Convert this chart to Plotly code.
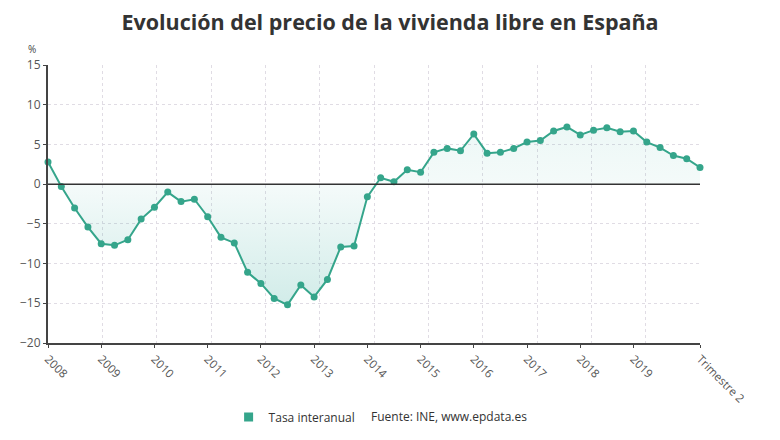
import plotly.graph_objects as go

quarters = [f"{y}T{q}" for y in range(2008, 2021) for q in range(1, 5)][:50]
values = [2.8, -0.3, -3.0, -5.4, -7.5, -7.7, -7.0, -4.4, -2.9, -1.0,
          -2.2, -1.9, -4.1, -6.7, -7.4, -11.1, -12.5, -14.4, -15.2, -12.7,
          -14.2, -12.0, -7.9, -7.8, -1.6, 0.8, 0.3, 1.8, 1.5, 4.0,
          4.5, 4.2, 6.3, 3.9, 4.0, 4.5, 5.3, 5.5, 6.7, 7.2,
          6.2, 6.8, 7.1, 6.6, 6.7, 5.3, 4.6, 3.6, 3.2, 2.1]
tick_labels = [str(y) for y in range(2008, 2020)] + ["Trimestre 2"]
tick_pos = [i for i, q in enumerate(quarters) if q.endswith("T1") and int(q[:4]) <= 2019] + [len(quarters) - 1]
x = list(range(len(quarters)))

teal = "#35a58b"
fig = go.Figure()
fig.add_trace(go.Scatter(
    x=x, y=values, mode="lines+markers",
    line=dict(color=teal, width=2),
    marker=dict(color=teal, size=7),
    fill="tozeroy",
    fillgradient=dict(type="vertical", start=-16, stop=8,
                      colorscale=[[0, "rgba(40,165,150,0.22)"],
                                  [0.66, "rgba(40,165,150,0.05)"],
                                  [1, "rgba(40,165,150,0.09)"]]),
    showlegend=False, cliponaxis=False, hoverinfo="skip"))
fig.add_trace(go.Scatter(
    x=[None], y=[None], mode="markers", name="Tasa interanual",
    marker=dict(color=teal, size=9, symbol="square")))

fig.add_shape(type="line", xref="paper", yref="y", x0=0, x1=1, y0=0, y1=0,
              line=dict(color="#333", width=1.5))

fig.update_layout(
    width=780, height=440,
    margin=dict(l=48, r=80, t=65, b=97, autoexpand=False),
    paper_bgcolor="white", plot_bgcolor="white",
    font=dict(family="Open Sans", size=11, color="#555"),
    title=dict(text="<b>Evolución del precio de la vivienda libre en España</b>",
               x=0.5, xref="container", y=0.95, yref="container", yanchor="middle",
               font=dict(size=21.5, color="#333", family="Open Sans")),
    legend=dict(orientation="h", xref="paper", yref="paper",
                x=0.277, y=-0.266, xanchor="left", yanchor="middle",
                font=dict(size=12, color="#333"), itemwidth=30),
    annotations=[
        dict(text="Fuente: INE, www.epdata.es", xref="paper", yref="paper",
             x=0.493, y=-0.266, xanchor="left", yanchor="middle", showarrow=False,
             font=dict(size=12, color="#333")),
        dict(text="%", xref="paper", yref="paper", x=-0.025, y=1.058,
             xanchor="center", yanchor="middle", showarrow=False,
             font=dict(size=10, color="#444")),
    ],
)
fig.update_xaxes(range=[0, len(quarters) - 1], tickmode="array", tickvals=tick_pos,
                 ticktext=tick_labels, tickangle=45, showgrid=False, automargin=False,
                 showline=True, linecolor="#444", linewidth=2,
                 ticks="outside", ticklen=3, tickcolor="#444",
                 tickfont=dict(size=11.5, color="#555"), zeroline=False,
                 minor=dict(tickmode="linear", tick0=0, dtick=(len(quarters) - 1) / 12,
                            showgrid=True, gridcolor="#e0dce4", griddash="dot", gridwidth=1,
                            ticks=""))
fig.update_yaxes(range=[-20, 15], tickmode="linear", tick0=-20, dtick=5, automargin=False,
                 showgrid=True, gridcolor="#e0dce4", griddash="dot",
                 showline=True, linecolor="#444", linewidth=2,
                 ticks="outside", ticklen=3, tickcolor="#444",
                 tickfont=dict(size=12, color="#555"), zeroline=False)

fig.write_html("out.html")
